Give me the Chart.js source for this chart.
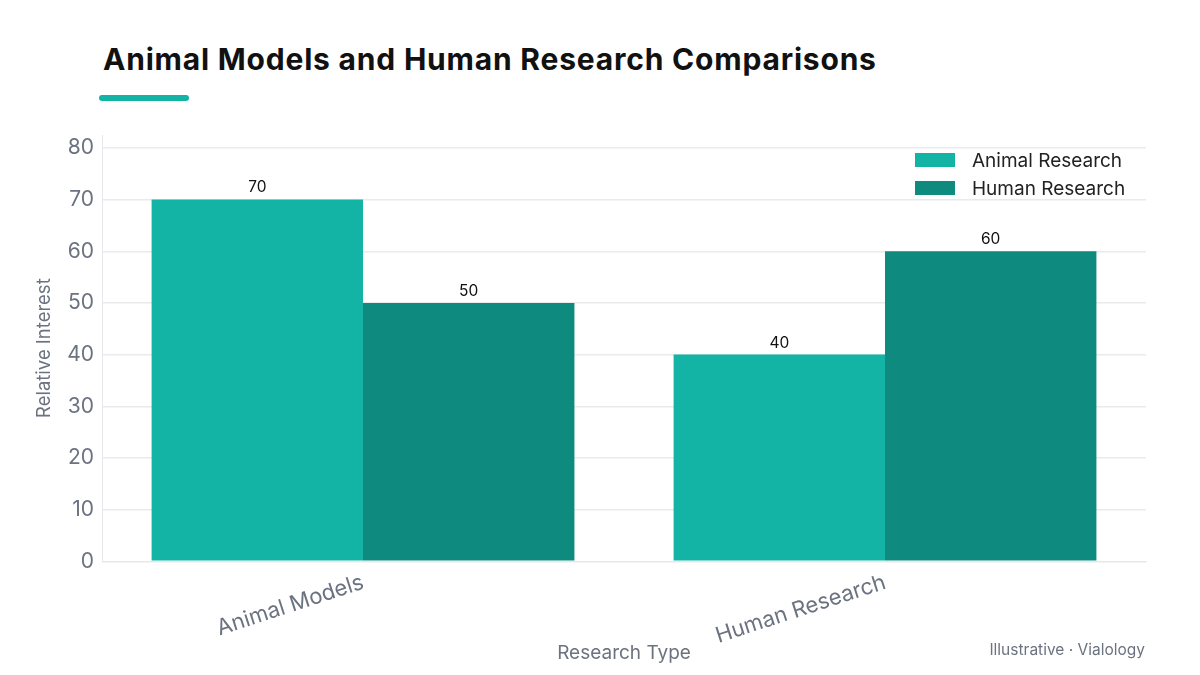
<!DOCTYPE html>
<html>
<head>
<meta charset="utf-8">
<script src="https://cdn.jsdelivr.net/npm/chart.js@4.4.1/dist/chart.umd.min.js"></script>
<style>
  html, body { margin: 0; padding: 0; background: #fff; }
  body { width: 1200px; height: 675px; position: relative; overflow: hidden; font-family: Inter, 'Noto Sans', sans-serif; }
  #title { position: absolute; left: 103px; top: 41px; font-size: 30px; font-weight: 700; color: #111; letter-spacing: 0.8px; }
  #accent { position: absolute; left: 99px; top: 95px; width: 90px; height: 6px; border-radius: 3px; background: #13b3a6; }
  #wrap { position: absolute; left: 0; top: 0; width: 1200px; height: 675px; }
  .legend { position: absolute; left: 915px; top: 146px; font-size: 19px; color: #222; }
  .legend div { display: flex; align-items: center; height: 28px; }
  .legend span.sw { display: inline-block; width: 40px; height: 14px; margin-right: 17px; }
  #footer { position: absolute; right: 55px; top: 640px; font-size: 15.5px; color: #6b7280; }
</style>
</head>
<body>
<div id="title">Animal Models and Human Research Comparisons</div>
<div id="accent"></div>
<div id="wrap"><canvas id="chart" width="1200" height="675"></canvas></div>
<div class="legend" id="legend"></div>
<div id="footer">Illustrative · Vialology</div>
<script>
/* Animal vs Human research chart */
const categories = ['Animal Models', 'Human Research'];
const seriesNames = ['Animal Research', 'Human Research'];
const animalValues = [70, 40];
const humanValues = [50, 60];
const yTicks = [0, 10, 20, 30, 40, 50, 60, 70, 80];

const COLORS = ['#13b3a6', '#0e8b7e'];
const FONT = "Inter, 'Noto Sans', sans-serif";

const valueLabels = {
  id: 'valueLabels',
  afterDatasetsDraw(chart) {
    const ctx = chart.ctx;
    ctx.save();
    ctx.font = `15.5px ${FONT}`;
    ctx.fillStyle = '#111';
    ctx.textAlign = 'center';
    ctx.textBaseline = 'bottom';
    chart.data.datasets.forEach((ds, i) => {
      chart.getDatasetMeta(i).data.forEach((bar, j) => {
        ctx.fillText(String(ds.data[j]), bar.x, bar.y - 4);
      });
    });
    ctx.restore();
  },
};

// html legend
const legend = document.getElementById('legend');
seriesNames.forEach((name, i) => {
  const row = document.createElement('div');
  row.innerHTML = `<span class="sw" style="background:${COLORS[i]}"></span>${name}`;
  legend.appendChild(row);
});

new Chart(document.getElementById('chart').getContext('2d'), {
  type: 'bar',
  data: {
    labels: categories,
    datasets: [
      { label: seriesNames[0], data: animalValues, backgroundColor: COLORS[0], categoryPercentage: 0.81, barPercentage: 1.0 },
      { label: seriesNames[1], data: humanValues, backgroundColor: COLORS[1], categoryPercentage: 0.81, barPercentage: 1.0 },
    ],
  },
  options: {
    responsive: false,
    animation: false,
    layout: { padding: { left: 33, top: 135, right: 54, bottom: 10 } },
    plugins: {
      legend: { display: false },
      tooltip: { enabled: false },
    },
    scales: {
      x: {
        grid: { display: false },
        border: { color: '#e5e7eb' },
        ticks: {
          color: '#6b7280',
          font: { family: FONT, size: 22 },
          minRotation: 18,
          maxRotation: 18,
          padding: 0,
        },
        title: {
          display: true,
          text: 'Research Type',
          color: '#6b7280',
          font: { family: FONT, size: 19 },
          padding: { top: -7, bottom: 0 },
        },
      },
      y: {
        min: 0,
        max: 82.5,
        afterBuildTicks: axis => { axis.ticks = yTicks.map(v => ({ value: v })); },
        grid: { color: '#e8eaed', lineWidth: 1.5, drawTicks: false },
        border: { color: '#e5e7eb' },
        ticks: {
          color: '#6b7280',
          font: { family: FONT, size: 21 },
          padding: 8,
        },
        title: {
          display: true,
          text: 'Relative Interest',
          color: '#6b7280',
          font: { family: FONT, size: 18.5 },
          padding: { top: 0, bottom: 4 },
        },
      },
    },
  },
  plugins: [valueLabels],
});
</script>
</body>
</html>
